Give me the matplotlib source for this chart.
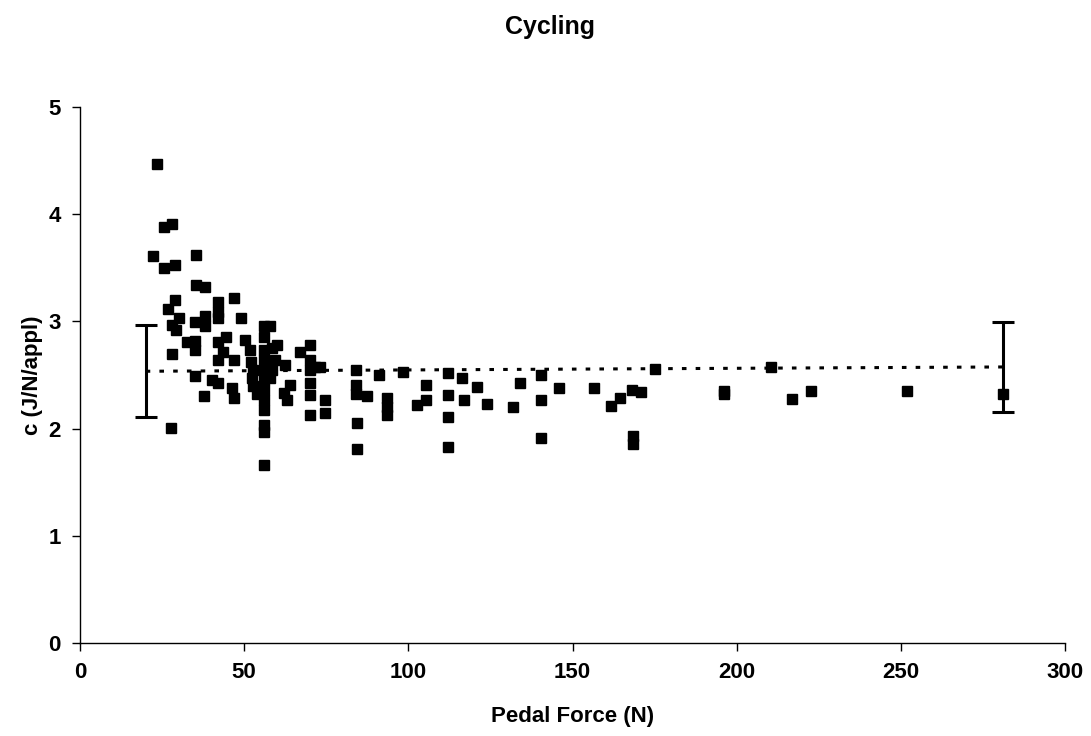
import matplotlib
matplotlib.use("Agg")
import matplotlib.pyplot as plt

plt.rcParams['font.family'] = ['Liberation Sans', 'DejaVu Sans']

# Pedal force (N) and c (J/N/appl)
force = [23.5, 25.6, 28.0, 22.2, 25.6, 29.0, 35.3, 35.3, 38.0, 26.8,
         29.0, 28.0, 30.0, 29.2, 28.0, 27.7, 35.0, 35.0, 35.0, 32.6,
         35.0, 37.8, 38.0, 38.0, 42.0, 42.0, 42.0, 47.0, 49.0, 44.5,
         42.0, 43.5, 42.0, 40.2, 42.0, 47.0, 46.3, 47.0, 50.3, 51.8,
         52.0, 52.7, 52.4, 52.7, 54.0, 56.0, 58.0, 56.0, 56.0, 56.0,
         56.0, 56.0, 56.0, 56.0, 56.0, 56.0, 56.0, 56.0, 58.5, 60.0,
         59.5, 58.5, 58.0, 62.4, 64.0, 62.0, 63.0, 67.0, 70.0, 70.0,
         70.0, 70.0, 70.0, 70.0, 71.6, 73.0, 74.6, 74.6,
         84.0, 84.0, 84.0, 87.4, 84.4, 84.4, 91.0, 93.5, 93.5, 93.5,
         98.4, 105.4, 105.4, 102.6, 112.0, 112.0, 112.0, 112.0,
         116.4, 117.0, 121.0, 124.0, 132.0, 134.0, 140.4, 140.4, 140.4,
         146.0, 156.6, 161.7, 164.5, 168.0, 168.4, 168.4, 171.0, 175.0,
         196.0, 196.0, 210.5, 217.0, 222.7, 252.0, 281.0]
c_value = [4.47, 3.88, 3.91, 3.61, 3.50, 3.53, 3.62, 3.34, 3.32, 3.12,
           3.20, 2.97, 3.03, 2.92, 2.70, 2.01, 2.99, 2.82, 2.73, 2.81,
           2.49, 2.30, 3.05, 2.96, 3.18, 3.09, 3.03, 3.22, 3.03, 2.85,
           2.81, 2.71, 2.64, 2.45, 2.43, 2.64, 2.38, 2.29, 2.83, 2.73,
           2.62, 2.55, 2.47, 2.40, 2.32, 2.96, 2.96, 2.85, 2.73, 2.64,
           2.55, 2.45, 2.36, 2.27, 2.17, 2.03, 1.97, 1.66, 2.75, 2.78,
           2.64, 2.55, 2.47, 2.59, 2.41, 2.33, 2.27, 2.71, 2.78, 2.64,
           2.55, 2.43, 2.31, 2.13, 2.57, 2.57, 2.27, 2.15,
           2.55, 2.41, 2.32, 2.30, 2.05, 1.81, 2.50, 2.29, 2.20, 2.13,
           2.53, 2.41, 2.27, 2.22, 2.52, 2.31, 2.11, 1.83,
           2.47, 2.27, 2.39, 2.23, 2.20, 2.43, 2.50, 2.27, 1.91,
           2.38, 2.38, 2.21, 2.29, 2.36, 1.93, 1.86, 2.34, 2.56,
           2.35, 2.32, 2.57, 2.28, 2.35, 2.35, 2.32]

# Mean line and error bars at the ends
mean_x = [20, 281]
mean_y = [2.535, 2.575]
err = [0.43, 0.42]

xticks = [0, 50, 100, 150, 200, 250, 300]
yticks = [0, 1, 2, 3, 4, 5]

fig = plt.figure(figsize=(10.91, 7.36), dpi=100)
ax = fig.add_axes([80/1091, 93/736, 985/1091, 536/736])

ax.plot(mean_x, mean_y, linestyle=(0, (1.5, 3)), color='black', linewidth=2.2)
ax.errorbar(mean_x, mean_y, yerr=err, fmt='none', ecolor='black',
            elinewidth=2.2, capsize=8, capthick=2.2)
ax.plot(force, c_value, linestyle='none', marker='s', markersize=7.8,
        color='black', markeredgecolor='black')

ax.set_xlim(0, 300)
ax.set_ylim(0, 5)
ax.set_xticks(xticks)
ax.set_yticks(yticks)
for s in ['top', 'right']:
    ax.spines[s].set_visible(False)
ax.spines['left'].set_linewidth(1)
ax.spines['bottom'].set_linewidth(1)
ax.tick_params(direction='out', length=6, width=1, labelsize=16, pad=8)
for lab in ax.get_xticklabels() + ax.get_yticklabels():
    lab.set_fontweight('bold')

ax.set_xlabel('Pedal Force (N)', fontsize=16, fontweight='bold', labelpad=16)
ax.set_ylabel('c (J/N/appl)', fontsize=16, fontweight='bold', labelpad=4)
fig.text(550/1091, 1 - 27/736, 'Cycling', ha='center', va='center',
         fontsize=18, fontweight='bold')

fig.savefig('out.png', dpi=100)
